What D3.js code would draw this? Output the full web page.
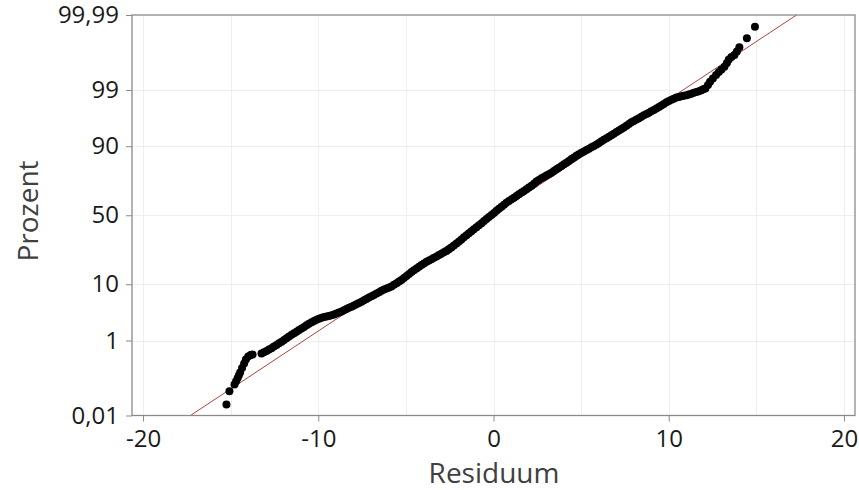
<!DOCTYPE html>
<html><head><meta charset="utf-8">
<script src="https://cdn.jsdelivr.net/npm/d3@7"></script>
<style>body{margin:0;background:#fff}svg{display:block}</style>
</head><body>
<svg id="chart" width="859" height="490"></svg>
<script>
// ---- data ----
const residuals = [
 -15.24,-15.07,-14.78,-14.69,-14.60,-14.53,-14.46,-14.35,-14.23,-14.13,-14.00,-13.86,-13.75,
 -13.24,-13.10,-12.95,-12.81,-12.67,-12.53,-12.38,-12.24,-12.09,-11.95,
 -11.81,-11.67,-11.52,-11.38,-11.24,-11.10,-10.95,-10.81,-10.67,-10.53,
 -10.38,-10.24,-10.10,-9.96,-9.81,-9.67,-9.53,-9.39,-9.24,-9.10,
 -8.96,-8.82,-8.67,-8.53,-8.39,-8.25,-8.10,-7.96,-7.82,-7.68,
 -7.53,-7.39,-7.25,-7.11,-6.96,-6.82,-6.67,-6.53,-6.39,-6.25,
 -6.10,-5.96,-5.82,-5.68,-5.53,-5.39,-5.25,-5.11,-4.96,-4.82,
 -4.68,-4.54,-4.39,-4.25,-4.11,-3.97,-3.82,-3.68,-3.54,-3.40,
 -3.25,-3.11,-2.97,-2.83,-2.68,-2.54,-2.40,-2.26,-2.11,-1.97,
 -1.83,-1.69,-1.54,-1.40,-1.26,-1.12,-0.97,-0.83,-0.68,-0.54,
 -0.40,-0.26,-0.11,0.03,0.17,0.31,0.46,0.60,0.74,0.88,
 1.03,1.17,1.31,1.45,1.60,1.74,1.88,2.02,2.17,2.31,
 2.45,2.59,2.74,2.88,3.02,3.16,3.31,3.45,3.59,3.73,
 3.88,4.02,4.16,4.30,4.45,4.59,4.73,4.87,5.02,5.16,
 5.31,5.45,5.59,5.73,5.88,6.02,6.16,6.30,6.45,6.59,
 6.73,6.87,7.02,7.16,7.30,7.44,7.59,7.73,7.87,8.01,
 8.16,8.30,8.44,8.58,8.73,8.87,9.01,9.15,9.30,9.44,
 9.58,9.72,9.87,10.01,10.15,10.29,10.44,10.58,10.72,10.86,
 11.01,11.15,11.29,11.43,11.58,11.72,11.86,11.97,12.09,
 12.24,12.36,12.52,12.70,12.86,13.01,13.18,13.32,13.43,13.58,13.75,13.89,14.03,14.46,14.92
];
const percents = [
 0.022,0.054,0.083,0.102,0.125,0.149,0.175,0.227,0.294,0.368,0.434,0.470,0.483,
 0.51,0.546,0.583,0.629,0.675,0.739,0.803,0.872,0.942,1.028,
 1.114,1.220,1.326,1.428,1.529,1.649,1.769,1.907,2.044,2.197,
 2.349,2.483,2.616,2.737,2.858,2.929,2.999,3.078,3.157,3.274,
 3.39,3.536,3.682,3.882,4.082,4.281,4.48,4.70,4.92,5.175,
 5.43,5.715,6.00,6.31,6.62,6.95,7.28,7.66,8.04,8.37,
 8.70,9.00,9.30,9.82,10.35,10.91,11.47,12.22,12.98,13.79,
 14.60,15.39,16.19,16.99,17.79,18.56,19.33,20.03,20.74,21.46,
 22.19,22.98,23.77,24.55,25.34,26.37,27.40,28.70,29.99,31.33,
 32.68,34.07,35.46,36.89,38.32,39.75,41.18,42.67,44.16,45.67,
 47.19,48.70,50.22,51.73,53.25,54.75,56.26,57.71,59.17,60.39,
 61.60,62.79,63.98,65.14,66.30,67.44,68.58,69.71,70.85,72.12,
 73.39,74.38,75.36,76.16,76.97,77.74,78.52,79.41,80.31,81.17,
 82.03,82.80,83.58,84.36,85.14,85.83,86.51,87.10,87.69,88.21,
 88.74,89.20,89.67,90.12,90.57,91.05,91.53,91.96,92.39,92.78,
 93.16,93.51,93.87,94.20,94.53,94.86,95.19,95.48,95.78,96.00,
 96.23,96.43,96.64,96.82,97.00,97.16,97.32,97.47,97.62,97.77,
 97.93,98.06,98.20,98.30,98.41,98.48,98.56,98.60,98.64,98.67,
 98.71,98.75,98.80,98.85,98.90,98.94,98.99,99.03,99.075,
 99.225,99.346,99.448,99.543,99.611,99.662,99.711,99.765,99.81,99.836,99.854,99.883,99.910,99.949,99.977
];
const fitMean = 0;
const fitSd = 4.65;
const xTicks = [-20, -10, 0, 10, 20];
const xGridValues = [-20, -15, -10, -5, 0, 5, 10, 15, 20];
const yTickPercents = [0.01, 1, 10, 50, 90, 99, 99.99];
const yTickLabels = ["0,01", "1", "10", "50", "90", "99", "99,99"];
const xTitle = "Residuum";
const yTitle = "Prozent";

// ---- normal quantile (probability axis transform) ----
function probit(p) {
  const a=[-3.969683028665376e+01,2.209460984245205e+02,-2.759285104469687e+02,1.383577518672690e+02,-3.066479806614716e+01,2.506628277459239e+00];
  const b=[-5.447609879822406e+01,1.615858368580409e+02,-1.556989798598866e+02,6.680131188771972e+01,-1.328068155288572e+01];
  const c=[-7.784894002430293e-03,-3.223964580411365e-01,-2.400758277161838e+00,-2.549732539343734e+00,4.374664141464968e+00,2.938163982698783e+00];
  const d=[7.784695709041462e-03,3.224671290700398e-01,2.445134137142996e+00,3.754408661907416e+00];
  const pl=0.02425, ph=1-pl; let q,r;
  if (p<pl){q=Math.sqrt(-2*Math.log(p));return (((((c[0]*q+c[1])*q+c[2])*q+c[3])*q+c[4])*q+c[5])/((((d[0]*q+d[1])*q+d[2])*q+d[3])*q+1);}
  if (p<=ph){q=p-0.5;r=q*q;return (((((a[0]*r+a[1])*r+a[2])*r+a[3])*r+a[4])*r+a[5])*q/(((((b[0]*r+b[1])*r+b[2])*r+b[3])*r+b[4])*r+1);}
  q=Math.sqrt(-2*Math.log(1-p));return -(((((c[0]*q+c[1])*q+c[2])*q+c[3])*q+c[4])*q+c[5])/((((d[0]*q+d[1])*q+d[2])*q+d[3])*q+1);
}

const L = 132, R = 855, T = 15, B = 415.5;
const svg = d3.select("#chart");
const x = d3.scaleLinear().domain([-20.63, 20.63]).range([L, R]);
const yz = d3.scaleLinear().domain([probit(0.0001), probit(0.9999)]).range([B, T]);
const y = p => yz(probit(p / 100));
const FONT = "'Open Sans', 'Noto Sans', sans-serif";

// grid
const grid = svg.append("g").attr("stroke", "#eeeeee").attr("stroke-width", 1);
grid.selectAll("line.v").data(xGridValues).join("line")
  .attr("x1", d => Math.round(x(d)) + 0.5).attr("x2", d => Math.round(x(d)) + 0.5)
  .attr("y1", T).attr("y2", B);
grid.selectAll("line.h").data(yTickPercents.slice(1, -1)).join("line")
  .attr("y1", d => Math.round(y(d)) + 0.5).attr("y2", d => Math.round(y(d)) + 0.5)
  .attr("x1", L).attr("x2", R);

// fitted line
const fitLine = [0.01, 99.99].map(p => ({ r: fitMean + fitSd * probit(p / 100), p }));
svg.append("line")
  .attr("x1", x(fitLine[0].r)).attr("y1", y(fitLine[0].p))
  .attr("x2", x(fitLine[1].r)).attr("y2", y(fitLine[1].p))
  .attr("stroke", "#b0433c").attr("stroke-width", 1);

// points
const n = Math.min(residuals.length, percents.length);
svg.append("g").selectAll("circle").data(d3.range(n).map(i => ({ r: residuals[i], p: percents[i] })))
  .join("circle")
  .attr("cx", d => x(d.r)).attr("cy", d => y(d.p)).attr("r", 4)
  .attr("fill", "#000");

// frame
svg.append("rect").attr("x", L).attr("y", T).attr("width", R - L).attr("height", B - T)
  .attr("fill", "none").attr("stroke", "#8a8a8a").attr("stroke-width", 1.3);

// axes
const xAxis = svg.append("g").attr("transform", `translate(0,${B})`)
  .call(d3.axisBottom(x).tickValues(xTicks).tickSize(6).tickPadding(8).tickFormat(d => String(d)));
const yAxis = svg.append("g").attr("transform", `translate(${L},0)`)
  .call(d3.axisLeft(yz).tickValues(yTickPercents.map(p => probit(p / 100))).tickSize(6).tickPadding(7)
    .tickFormat((d, i) => yTickLabels[i]));
[xAxis, yAxis].forEach(g => {
  g.select(".domain").remove();
  g.selectAll(".tick line").attr("stroke", "#8a8a8a");
  g.selectAll(".tick text").attr("fill", "#1a1a1a").style("font-family", FONT).style("font-size", "24px");
});

// titles
svg.append("text").attr("x", 494).attr("y", 483).attr("text-anchor", "middle")
  .style("font-family", FONT).style("font-size", "28px").attr("fill", "#404040").text(xTitle);
svg.append("text").attr("transform", "translate(38,211) rotate(-90)").attr("text-anchor", "middle")
  .style("font-family", FONT).style("font-size", "28px").attr("fill", "#404040").text(yTitle);
</script>
</body></html>
